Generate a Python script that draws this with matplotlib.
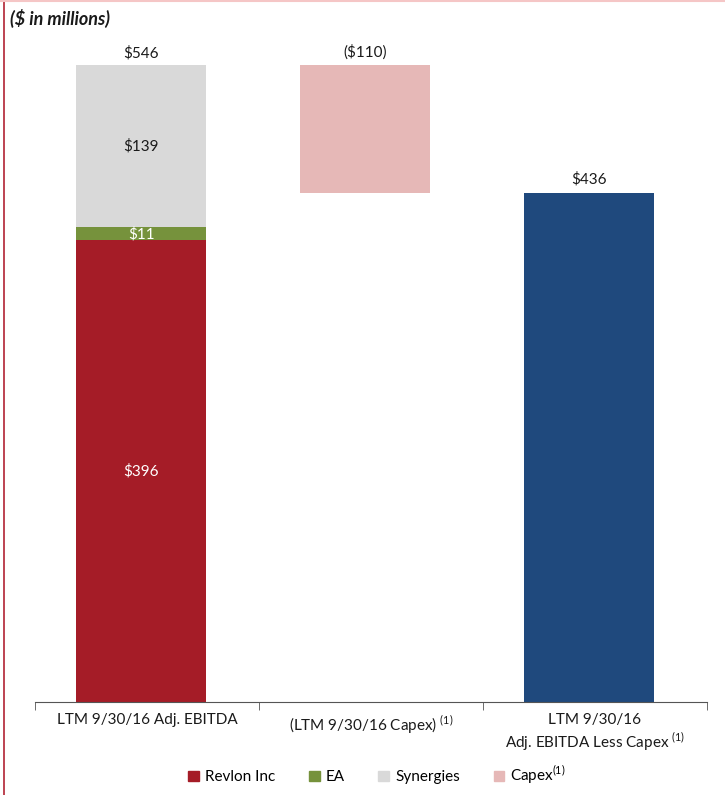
import numpy as np
import matplotlib.pyplot as plt
from matplotlib.lines import Line2D
from matplotlib.patches import Patch

plt.rcParams["font.family"] = ["Lato", "DejaVu Sans"]
plt.rcParams["mathtext.fontset"] = "custom"
plt.rcParams["mathtext.rm"] = "Lato"

CATEGORIES = ["LTM 9/30/16 Adj. EBITDA",
              "(LTM 9/30/16 Capex) $^{(1)}$",
              "LTM 9/30/16\nAdj. EBITDA Less Capex $^{(1)}$"]

REVLON = 396
EA = 11
SYNERGIES = 139
CAPEX = 110
TOTAL = REVLON + EA + SYNERGIES
LESS_CAPEX = TOTAL - CAPEX

RED = "#A51C27"
GREEN = "#76923C"
GRAY = "#D9D9D9"
PINK = "#E6B8B7"
BLUE = "#1F497D"
TEXT = "#1a1a1a"


def main():
    fig = plt.figure(figsize=(7.25, 7.95), dpi=100)
    ax = fig.add_axes([35 / 725, 93 / 795, 672 / 725, 677 / 795])

    # bars sit a touch left of the category centres, like the original
    x = np.arange(3) - 0.025
    w = 0.58
    # stacked first bar
    ax.bar(x[0], REVLON, w, color=RED)
    ax.bar(x[0], EA, w, bottom=REVLON, color=GREEN)
    ax.bar(x[0], SYNERGIES, w, bottom=REVLON + EA, color=GRAY)
    # floating capex
    ax.bar(x[1], CAPEX, w, bottom=TOTAL - CAPEX, color=PINK)
    # result
    ax.bar(x[2], LESS_CAPEX, w, color=BLUE)

    fs = 11
    ax.text(x[0], TOTAL + 4, f"${TOTAL}", ha="center", va="bottom", fontsize=fs, color=TEXT)
    ax.text(x[0], REVLON + EA + SYNERGIES / 2, f"${SYNERGIES}", ha="center", va="center",
            fontsize=fs, color=TEXT)
    ax.text(x[0], REVLON + EA / 2 - 1, f"${EA}", ha="center", va="center", fontsize=fs,
            color="white")
    ax.text(x[0], REVLON / 2, f"${REVLON}", ha="center", va="center", fontsize=fs, color="white")
    ax.text(x[1], TOTAL + 4, f"(${CAPEX})", ha="center", va="bottom", fontsize=fs, color=TEXT)
    ax.text(x[2], LESS_CAPEX + 6, f"${LESS_CAPEX}", ha="center", va="bottom", fontsize=fs,
            color=TEXT)

    ax.set_xlim(-0.5, 2.5)
    ax.set_ylim(0, 580)
    for s in ["top", "right", "left"]:
        ax.spines[s].set_visible(False)
    ax.spines["bottom"].set_color("#555555")
    ax.set_yticks([])
    ax.set_xticks([0, 1, 2])
    ax.set_xticklabels(CATEGORIES, fontsize=fs, color=TEXT, va="top")
    ax.tick_params(axis="x", which="major", length=0, pad=8)
    ax.set_xticks([-0.5, 0.5, 1.5, 2.5], minor=True)
    ax.tick_params(axis="x", which="minor", length=6, color="#555555")

    handles = [Patch(color=RED), Patch(color=GREEN), Patch(color=GRAY), Patch(color=PINK)]
    labels = ["Revlon Inc", "EA", "Synergies", "Capex$^{(1)}$"]
    fig.legend(handles, labels, loc="center", bbox_to_anchor=(0.52, 0.025), ncol=4,
               frameon=False, fontsize=fs, handlelength=0.7, handleheight=0.7,
               handletextpad=0.4, columnspacing=2.2)

    fig.text(10 / 725, 1 - 18 / 795, "($ in millions)", fontsize=13, fontweight="bold",
             fontstyle="italic", va="center", ha="left", color=TEXT)

    # page border
    fig.add_artist(Line2D([4 / 725, 4 / 725], [0, 1], color="#B22234", lw=1.2))
    fig.add_artist(Line2D([0, 1], [1 - 1 / 795, 1 - 1 / 795], color="#F5C6C6", lw=1.5))

    fig.savefig("out.png", dpi=100)


if __name__ == "__main__":
    main()
